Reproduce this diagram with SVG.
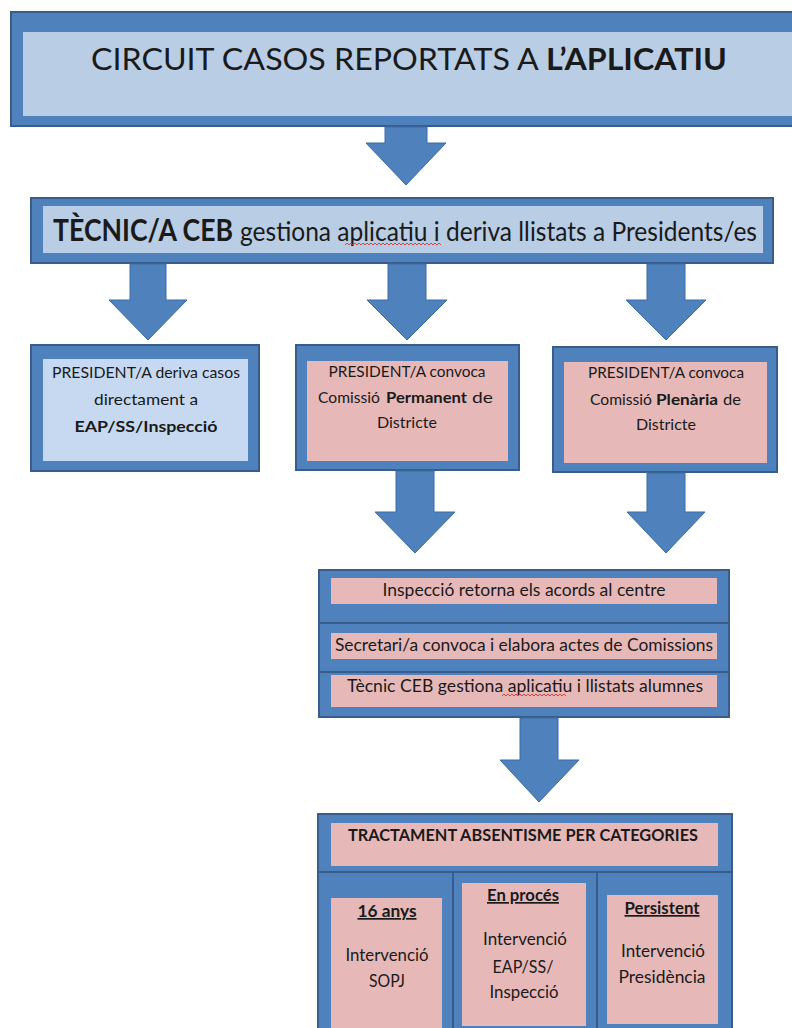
<svg xmlns="http://www.w3.org/2000/svg" width="792" height="1028" viewBox="0 0 792 1028">
<style>
.outer{fill:#4F81BD;stroke:#385D8A;stroke-width:2}
.inb{fill:#B9CDE5}
.inl{fill:#C6D9F1}
.inp{fill:#E6B9B8}
.t{font-family:Lato,"Liberation Sans",sans-serif;fill:#1a1a1a;text-anchor:middle}
.s{text-anchor:start}
.b{font-weight:bold}
.u{text-decoration:underline}
.arrow{fill:#4F81BD;stroke:#3A6CA6;stroke-width:1}
.wavy{fill:none;stroke:#e03030;stroke-width:0.9}
</style>
<rect width="792" height="1028" fill="#ffffff"/>

<g id="title">
<rect class="outer" x="11" y="12" width="790" height="114"/>
<rect class="inb" x="23" y="32" width="778" height="84"/>
<text class="t" x="409" y="70" font-size="30" textLength="636" lengthAdjust="spacingAndGlyphs">CIRCUIT CASOS REPORTATS A <tspan class="b">L’APLICATIU</tspan></text>
</g>

<g id="tecnic">
<rect class="outer" x="31" y="198" width="742" height="65"/>
<rect class="inb" x="43" y="206" width="720" height="47"/>
<text class="t s b" transform="translate(53,241) scale(1,1.15)" x="0" y="0" font-size="26" textLength="180" lengthAdjust="spacingAndGlyphs">TÈCNIC/A CEB</text>
<text class="t s" transform="translate(240,241) scale(1,1.15)" x="0" y="0" font-size="24" textLength="517" lengthAdjust="spacingAndGlyphs">gestiona aplicatiu i deriva llistats a Presidents/es</text>
<path class="wavy" d="M345,245 l2,-2 l2,2 l2,-2 l2,2 l2,-2 l2,2 l2,-2 l2,2 l2,-2 l2,2 l2,-2 l2,2 l2,-2 l2,2 l2,-2 l2,2 l2,-2 l2,2 l2,-2 l2,2 l2,-2 l2,2 l2,-2 l2,2 l2,-2 l2,2 l2,-2 l2,2 l2,-2 l2,2 l2,-2 l2,2 l2,-2 l2,2 l2,-2 l2,2 l2,-2 l2,2 l2,-2 l2,2 l2,-2 l2,2 l2,-2 l2,2 l2,-2 l2,2 l2,-2 l2,2"/>
</g>

<g id="president-deriva">
<rect class="outer" x="31" y="345" width="228" height="126"/>
<rect class="inl" x="43" y="359" width="205" height="102"/>
<text class="t" x="146" y="378" font-size="15" textLength="188" lengthAdjust="spacingAndGlyphs">PRESIDENT/A deriva casos</text>
<text class="t" x="146" y="405" font-size="15" textLength="104" lengthAdjust="spacingAndGlyphs">directament a</text>
<text class="t b" x="146" y="432" font-size="15" textLength="143" lengthAdjust="spacingAndGlyphs">EAP/SS/Inspecció</text>
</g>

<g id="president-permanent">
<rect class="outer" x="296" y="345" width="223" height="125"/>
<rect class="inp" x="307" y="361" width="201" height="100"/>
<text class="t" x="407" y="377" font-size="15" textLength="157" lengthAdjust="spacingAndGlyphs">PRESIDENT/A convoca</text>
<text class="t s" x="318" y="403" font-size="15" textLength="62" lengthAdjust="spacingAndGlyphs">Comissió</text>
<text class="t s b" x="386" y="403" font-size="16" textLength="81" lengthAdjust="spacingAndGlyphs">Permanent</text>
<text class="t s" x="472" y="403" font-size="15" textLength="21" lengthAdjust="spacingAndGlyphs">de</text>
<text class="t" x="407" y="428" font-size="15" textLength="60" lengthAdjust="spacingAndGlyphs">Districte</text>
</g>

<g id="president-plenaria">
<rect class="outer" x="553" y="347" width="224" height="125"/>
<rect class="inp" x="564" y="362" width="203" height="101"/>
<text class="t" x="666" y="378" font-size="15" textLength="156" lengthAdjust="spacingAndGlyphs">PRESIDENT/A convoca</text>
<text class="t s" x="590" y="405" font-size="15" textLength="62" lengthAdjust="spacingAndGlyphs">Comissió</text>
<text class="t s b" x="656" y="405" font-size="16" textLength="62" lengthAdjust="spacingAndGlyphs">Plenària</text>
<text class="t s" x="723" y="405" font-size="15" textLength="18" lengthAdjust="spacingAndGlyphs">de</text>
<text class="t" x="666" y="430" font-size="15" textLength="60" lengthAdjust="spacingAndGlyphs">Districte</text>
</g>

<g id="stack">
<rect class="outer" x="319" y="570" width="410" height="53"/>
<rect class="inp" x="331" y="578" width="386" height="26"/>
<text class="t" x="524" y="596" font-size="17" textLength="283" lengthAdjust="spacingAndGlyphs">Inspecció retorna els acords al centre</text>
<rect class="outer" x="319" y="623" width="410" height="49"/>
<rect class="inp" x="331" y="633" width="386" height="26"/>
<text class="t" x="524" y="651" font-size="17" textLength="378" lengthAdjust="spacingAndGlyphs">Secretari/a convoca i elabora actes de Comissions</text>
<rect class="outer" x="319" y="672" width="410" height="45"/>
<rect class="inp" x="331" y="675" width="386" height="32"/>
<text class="t" x="525" y="692" font-size="17" textLength="356" lengthAdjust="spacingAndGlyphs">Tècnic CEB gestiona aplicatiu i llistats alumnes</text>
<path class="wavy" d="M502,696 l2,-2 l2,2 l2,-2 l2,2 l2,-2 l2,2 l2,-2 l2,2 l2,-2 l2,2 l2,-2 l2,2 l2,-2 l2,2 l2,-2 l2,2 l2,-2 l2,2 l2,-2 l2,2 l2,-2 l2,2 l2,-2 l2,2 l2,-2 l2,2 l2,-2 l2,2 l2,-2 l2,2 l2,-2 l2,2"/>
</g>

<g id="tractament">
<rect class="outer" x="318" y="814" width="414" height="58"/>
<rect class="inp" x="331" y="823" width="387" height="43"/>
<text class="t b" x="523" y="841" font-size="17" textLength="350" lengthAdjust="spacingAndGlyphs">TRACTAMENT ABSENTISME PER CATEGORIES</text>
</g>

<g id="cat-16anys">
<rect class="outer" x="318" y="872" width="135" height="170"/>
<rect class="inp" x="331" y="898" width="111" height="140"/>
<text class="t b u" x="387" y="917" font-size="17" textLength="59" lengthAdjust="spacingAndGlyphs">16 anys</text>
<text class="t" x="387" y="961" font-size="17" textLength="83" lengthAdjust="spacingAndGlyphs">Intervenció</text>
<text class="t" x="387" y="987" font-size="17" textLength="36" lengthAdjust="spacingAndGlyphs">SOPJ</text>
</g>

<g id="cat-enproces">
<rect class="outer" x="453" y="872" width="144" height="170"/>
<rect class="inp" x="462" y="883" width="124" height="143"/>
<text class="t b u" x="523" y="901" font-size="17" textLength="72" lengthAdjust="spacingAndGlyphs">En procés</text>
<text class="t" x="525" y="945" font-size="17" textLength="84" lengthAdjust="spacingAndGlyphs">Intervenció</text>
<text class="t" x="523" y="973" font-size="17" textLength="61" lengthAdjust="spacingAndGlyphs">EAP/SS/</text>
<text class="t" x="524" y="998" font-size="17" textLength="69" lengthAdjust="spacingAndGlyphs">Inspecció</text>
</g>

<g id="cat-persistent">
<rect class="outer" x="597" y="872" width="135" height="170"/>
<rect class="inp" x="607" y="895" width="111" height="129"/>
<text class="t b u" x="662" y="914" font-size="17" textLength="75" lengthAdjust="spacingAndGlyphs">Persistent</text>
<text class="t" x="663" y="957" font-size="17" textLength="84" lengthAdjust="spacingAndGlyphs">Intervenció</text>
<text class="t" x="662" y="983" font-size="17" textLength="87" lengthAdjust="spacingAndGlyphs">Presidència</text>
</g>

<g id="connectors">
<path class="arrow" d="M385,127 H427 V143 H446 L406,185 L366,143 H385 Z"/>
<path class="arrow" d="M130,264 H166 V300 H187 L148,340 L109,300 H130 Z"/>
<path class="arrow" d="M388,264 H426 V300 H447 L407,340 L367,300 H388 Z"/>
<path class="arrow" d="M647,264 H685 V300 H706 L666,340 L626,300 H647 Z"/>
<path class="arrow" d="M396,471 H434 V512 H455 L415,553 L375,512 H396 Z"/>
<path class="arrow" d="M647,473 H685 V512 H705 L666,553 L627,512 H647 Z"/>
<path class="arrow" d="M520,718 H558 V760 H579 L539,802 L500,760 H520 Z"/>
</g>
</svg>
